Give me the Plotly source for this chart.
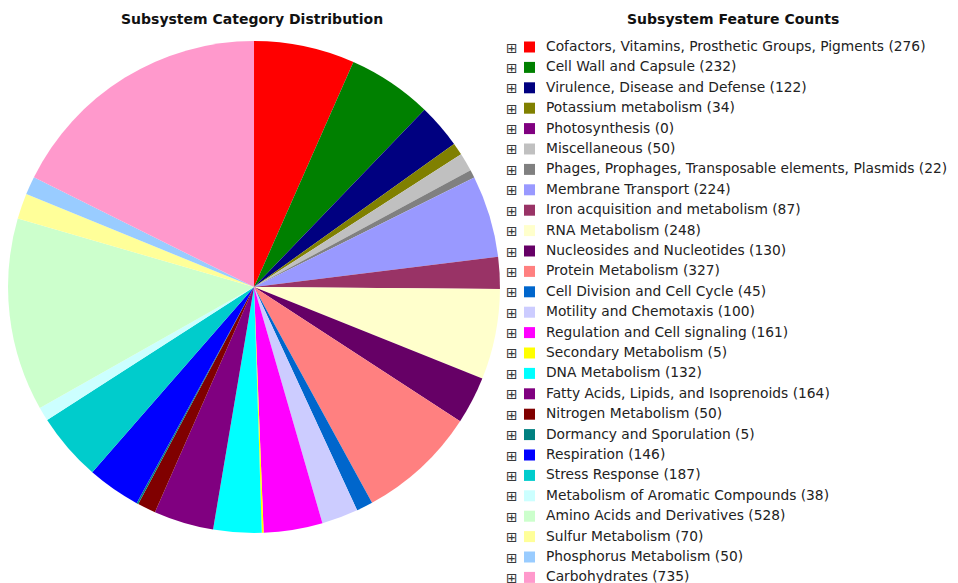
import plotly.graph_objects as go

categories = [
    "Cofactors, Vitamins, Prosthetic Groups, Pigments",
    "Cell Wall and Capsule",
    "Virulence, Disease and Defense",
    "Potassium metabolism",
    "Photosynthesis",
    "Miscellaneous",
    "Phages, Prophages, Transposable elements, Plasmids",
    "Membrane Transport",
    "Iron acquisition and metabolism",
    "RNA Metabolism",
    "Nucleosides and Nucleotides",
    "Protein Metabolism",
    "Cell Division and Cell Cycle",
    "Motility and Chemotaxis",
    "Regulation and Cell signaling",
    "Secondary Metabolism",
    "DNA Metabolism",
    "Fatty Acids, Lipids, and Isoprenoids",
    "Nitrogen Metabolism",
    "Dormancy and Sporulation",
    "Respiration",
    "Stress Response",
    "Metabolism of Aromatic Compounds",
    "Amino Acids and Derivatives",
    "Sulfur Metabolism",
    "Phosphorus Metabolism",
    "Carbohydrates",
]
counts = [276, 232, 122, 34, 0, 50, 22, 224, 87, 248, 130, 327, 45, 100, 161,
          5, 132, 164, 50, 5, 146, 187, 38, 528, 70, 50, 735]
colors = ["#FF0000", "#008000", "#000080", "#808000", "#800080", "#C0C0C0",
          "#808080", "#9999FF", "#993366", "#FFFFCC", "#660066", "#FF8080",
          "#0066CC", "#CCCCFF", "#FF00FF", "#FFFF00", "#00FFFF", "#800080",
          "#800000", "#008080", "#0000FF", "#00CCCC", "#CCFFFF", "#CCFFCC",
          "#FFFF99", "#99CCFF", "#FF99CC"]

W, H = 958, 583
labels = [f"{c} ({n})" for c, n in zip(categories, counts)]

fig = go.Figure(go.Pie(
    labels=labels,
    values=counts,
    sort=False,
    direction="clockwise",
    rotation=0,
    textinfo="none",
    hoverinfo="label+percent",
    marker=dict(colors=colors, line=dict(width=0)),
    domain=dict(x=[0, 0.5136], y=[0.0995, 0.9433]),
    showlegend=False,
))


def px(x):
    return x / W


def py(y):
    return 1 - y / H


# manual legend (positions in page pixels of the figure)
row0, step = 39.0, 20.4
shapes = []
annotations = []
for i, (lab, col) in enumerate(zip(labels, colors)):
    yc = row0 + step * i
    shapes.append(dict(type="rect", xref="paper", yref="paper",
                       x0=px(516), x1=px(527), y0=py(yc - 5.5), y1=py(yc + 5.5),
                       fillcolor=col, line=dict(width=0)))
    annotations.append(dict(
        x=px(503.5), y=py(yc + 0.5), xref="paper", yref="paper",
        text="⊞", showarrow=False, xanchor="center", yanchor="middle",
        font=dict(family="DejaVu Sans", size=14, color="#3a3a3a")))
    annotations.append(dict(
        x=px(536), y=py(yc - 1), xref="paper", yref="paper",
        text=lab, showarrow=False, xanchor="left", yanchor="middle",
        font=dict(family="DejaVu Sans", size=13.8, color="#222222")))

annotations += [
    dict(x=px(244), y=py(11), xref="paper", yref="paper",
         text="<b>Subsystem Category Distribution</b>", showarrow=False,
         xanchor="center", yanchor="middle",
         font=dict(family="DejaVu Sans", size=14, color="#111111")),
    dict(x=px(725), y=py(11), xref="paper", yref="paper",
         text="<b>Subsystem Feature Counts</b>", showarrow=False,
         xanchor="center", yanchor="middle",
         font=dict(family="DejaVu Sans", size=14, color="#111111")),
]

fig.update_layout(
    width=W, height=H,
    margin=dict(l=0, r=0, t=0, b=0),
    paper_bgcolor="white",
    plot_bgcolor="white",
    showlegend=False,
    shapes=shapes,
    annotations=annotations,
)

fig.write_html("out.html")
